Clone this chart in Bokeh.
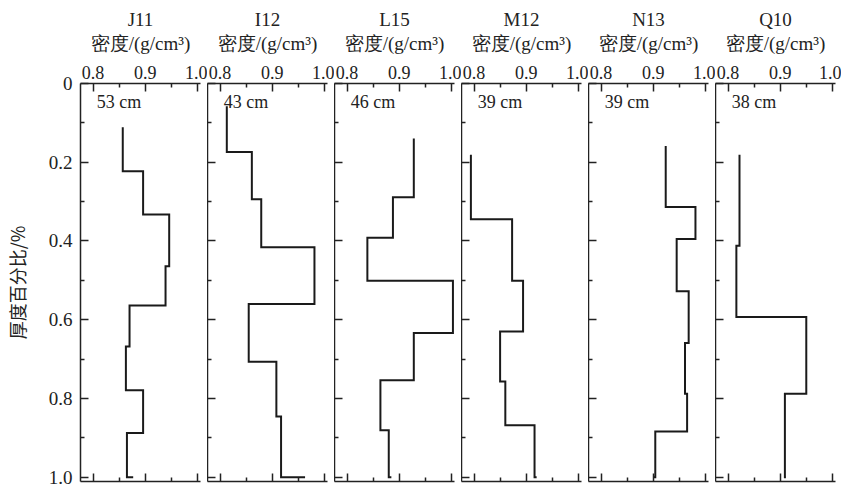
from bokeh.plotting import figure
from bokeh.layouts import row
from bokeh.models import (Range1d, FixedTicker, LinearAxis, ColumnDataSource,
                          PrintfTickFormatter, CustomJSTickFormatter)
from bokeh.embed import file_html
from bokeh.resources import INLINE
from bokeh.core.properties import value

sites = ["J11", "I12", "L15", "M12", "N13", "Q10"]
thickness = ["53 cm", "43 cm", "46 cm", "39 cm", "39 cm", "38 cm"]
x_label = "密度/(g/cm³)"
y_label = "厚度百分比/%"

x_major = [0.8, 0.9, 1.0]
x_minor = [0.85, 0.95]
y_major = [0.0, 0.2, 0.4, 0.6, 0.8, 1.0]
y_minor = [0.1, 0.3, 0.5, 0.7, 0.9]

# depth fraction at which each layer starts, and its density (last entry at 1.0 = bottom sample)
j11_depth = [0.111, 0.223, 0.333, 0.464, 0.564, 0.668, 0.779, 0.888, 1.0]
j11_density = [0.857, 0.896, 0.946, 0.939, 0.870, 0.863, 0.896, 0.865, 0.877]
i12_depth = [0.058, 0.174, 0.294, 0.416, 0.560, 0.707, 0.846, 1.0]
i12_density = [0.813, 0.861, 0.879, 0.981, 0.855, 0.908, 0.917, 0.963]
l15_depth = [0.140, 0.289, 0.392, 0.501, 0.634, 0.754, 0.881, 1.0]
l15_density = [0.928, 0.888, 0.839, 1.003, 0.928, 0.864, 0.880, 0.885]
m12_depth = [0.181, 0.345, 0.501, 0.630, 0.757, 0.868, 1.0]
m12_density = [0.794, 0.873, 0.894, 0.850, 0.860, 0.916, 0.920]
n13_depth = [0.159, 0.314, 0.395, 0.528, 0.659, 0.788, 0.884, 1.0]
n13_density = [0.924, 0.981, 0.945, 0.968, 0.961, 0.965, 0.904, 0.901]
q10_depth = [0.181, 0.412, 0.593, 0.788, 1.0]
q10_density = [0.822, 0.816, 0.950, 0.909, 0.911]

depths = [j11_depth, i12_depth, l15_depth, m12_depth, n13_depth, q10_depth]
densities = [j11_density, i12_density, l15_density, m12_density, n13_density, q10_density]

SERIF = "Liberation Serif"
INK = "#222222"


def step_path(d, v):
    xs, ys = [], []
    for k in range(len(d) - 1):
        xs += [v[k], v[k]]
        ys += [d[k], d[k + 1]]
    xs.append(v[-1])
    ys.append(d[-1])
    return xs, ys


def style_axis(ax, labels=True):
    ax.axis_line_color = INK
    ax.axis_line_width = 1.5
    ax.major_tick_line_color = INK
    ax.minor_tick_line_color = INK
    ax.major_tick_line_width = 1.5
    ax.minor_tick_line_width = 1.5
    ax.major_tick_in = 8
    ax.major_tick_out = 0
    ax.minor_tick_in = 4
    ax.minor_tick_out = 0
    ax.major_label_text_font = SERIF
    ax.major_label_text_color = INK
    ax.axis_label_text_font = SERIF
    ax.axis_label_text_font_style = "normal"
    ax.axis_label_text_color = INK
    if labels:
        ax.formatter = PrintfTickFormatter(format="%.1f")
    else:
        ax.formatter = CustomJSTickFormatter(code="return ''")
        ax.major_label_standoff = 0


panels = []
for i, site in enumerate(sites):
    first = i == 0
    last = i == len(sites) - 1
    p = figure(
        frame_width=120, frame_height=398,
        x_range=Range1d(0.776, 1.006), y_range=Range1d(1.011, 0.0),
        x_axis_location=None, y_axis_location=None,
        toolbar_location=None, output_backend="svg",
        min_border_left=75 if first else 0,
        min_border_right=6 if last else 7,
        min_border_top=0, min_border_bottom=7,
        margin=(6, 0, 0, 0),
    )
    p.grid.visible = False
    p.outline_line_color = None
    p.background_fill_color = "white"
    p.border_fill_color = "white"

    p.title.text = site
    p.title.align = "center"
    p.title.text_font = SERIF
    p.title.text_font_size = "19px"
    p.title.text_font_style = "normal"
    p.title.text_color = INK
    p.title.standoff = 0

    xt = FixedTicker(ticks=x_major, minor_ticks=x_minor)
    top = LinearAxis(ticker=xt, axis_label=x_label)
    style_axis(top)
    top.major_label_text_font_size = "18px"
    top.major_label_standoff = 5
    top.axis_label_text_font_size = "19px"
    top.axis_label_standoff = 9
    p.add_layout(top, "above")

    bot = LinearAxis(ticker=FixedTicker(ticks=x_major, minor_ticks=x_minor))
    style_axis(bot, labels=False)
    p.add_layout(bot, "below")

    yt = FixedTicker(ticks=y_major, minor_ticks=y_minor)
    left = LinearAxis(ticker=yt)
    style_axis(left, labels=first)
    if first:
        left.major_label_text_font_size = "19px"
        left.major_label_overrides = {0: "0"}
        left.major_label_standoff = 8
        left.axis_label = y_label
        left.axis_label_text_font = "Noto Sans CJK SC"
        left.axis_label_text_font_size = "18px"
        left.axis_label_standoff = 16
    p.add_layout(left, "left")

    xs, ys = step_path(depths[i], densities[i])
    p.line(xs, ys, line_width=2, line_color="#1a1a1a", line_join="miter")

    src = ColumnDataSource(dict(x=[0.807], y=[0.047], t=[thickness[i]]))
    p.text(x="x", y="y", text="t", source=src, text_font=value(SERIF),
           text_font_size="18px", text_baseline="middle", text_align="left",
           text_color=INK)
    panels.append(p)

layout = row(*panels, spacing=0)
open("out.html", "w").write(file_html(layout, INLINE))
